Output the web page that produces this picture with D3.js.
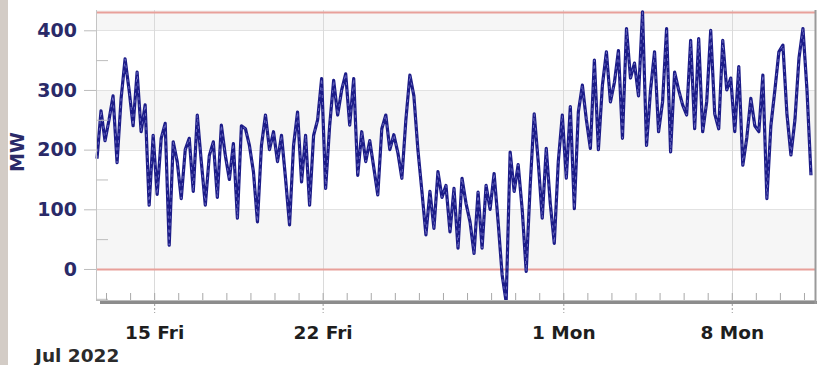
<!DOCTYPE html>
<html>
<head>
<meta charset="utf-8">
<script src="https://cdn.jsdelivr.net/npm/d3@7"></script>
<style>
  html, body { margin: 0; padding: 0; background: #ffffff; }
  svg { display: block; }
  text { font-family: "DejaVu Sans", Verdana, sans-serif; font-weight: bold; }
</style>
</head>
<body>
<svg id="chart" width="819" height="365"></svg>
<script>
// Power output (MW), one reading every 4 hours from 12 Jul 2022 15:00
const seriesStart = new Date(2022, 6, 12, 15, 0);
const stepHours = 4;
const mw = [
  185, 265, 215, 250, 290, 178, 285, 352, 300, 240, 330, 230, 275, 107, 224, 125,
  219, 244, 40, 213, 180, 118, 200, 219, 130, 258, 180, 107, 190, 213, 120, 241,
  190, 150, 210, 85,
  240, 235, 207, 163, 79, 207, 258, 200, 230, 180, 224, 152, 74, 207, 263, 146,
  224, 107, 224, 250, 319, 135, 240, 316, 258, 300, 327, 241, 319, 157, 230, 180,
  215, 170, 124, 235,
  258, 200, 225, 195, 152, 250, 325, 290, 200, 130, 57, 130, 68, 163, 120, 140,
  62, 135, 35, 152, 110, 79, 26, 129, 35, 140, 100, 160, 79, -10, -55, 196,
  130, 175, 100, -4,
  140, 260, 180, 85, 202, 110, 43, 180, 258, 152, 272, 101, 263, 308, 250, 202,
  350, 200, 308, 364, 280, 313, 366, 219, 403, 320, 345, 290, 431, 207, 300, 364,
  230, 280, 403, 196,
  330, 300, 275, 258, 383, 235, 386, 230, 280, 400, 260, 235, 383, 300, 320, 230,
  339, 174, 220, 286, 240, 230, 325, 118, 240, 300, 364, 375, 260, 191, 250, 353,
  403, 300, 157
];

// Axis setup
const xStart = new Date(2022, 6, 12, 14, 0);
const xEnd = new Date(2022, 7, 11, 11, 0);
const yMin = -52, yMax = 434;
const yMajorTicks = [0, 100, 200, 300, 400];
const yMinorTicks = [-50, 50, 150, 250, 350];
const limitLines = [0, 430];
const xLabelDates = [new Date(2022, 6, 15), new Date(2022, 6, 22), new Date(2022, 7, 1), new Date(2022, 7, 8)];
const xLabels = ["15 Fri", "22 Fri", "1 Mon", "8 Mon"];
const periodLabel = "Jul 2022";
const unitLabel = "MW";

const points = mw.map((v, i) => ({ t: new Date(seriesStart.getTime() + i * stepHours * 3600e3), v }));

const plot = { left: 96, right: 815, top: 10, bottom: 300 };
const svg = d3.select("#chart");
const labelFont = "'DejaVu Sans', Verdana, sans-serif";

const x = d3.scaleTime().domain([xStart, xEnd]).range([plot.left, plot.right]);
const y = d3.scaleLinear().domain([yMin, yMax]).range([plot.bottom, plot.top]);

// Left margin strip
svg.append("rect").attr("x", 0).attr("y", 0).attr("width", 8).attr("height", 365).attr("fill", "#d3ccc6");

// Alternating background bands
const bandEdges = [yMin, 0, 100, 200, 300, 400, yMax];
for (let k = 0; k < bandEdges.length - 1; k++) {
  svg.append("rect")
    .attr("x", plot.left).attr("width", plot.right - plot.left)
    .attr("y", y(bandEdges[k + 1])).attr("height", y(bandEdges[k]) - y(bandEdges[k + 1]))
    .attr("fill", k % 2 === 1 ? "#f6f6f6" : "#ffffff");
}

// Horizontal gridlines
svg.append("g").selectAll("line").data(yMajorTicks).join("line")
  .attr("x1", plot.left).attr("x2", plot.right)
  .attr("y1", d => Math.round(y(d)) + 0.5).attr("y2", d => Math.round(y(d)) + 0.5)
  .attr("stroke", "#e2e2e2").attr("stroke-width", 1);

// Vertical gridlines at labelled dates
svg.append("g").selectAll("line").data(xLabelDates).join("line")
  .attr("x1", d => Math.round(x(d)) + 0.5).attr("x2", d => Math.round(x(d)) + 0.5)
  .attr("y1", plot.top).attr("y2", plot.bottom)
  .attr("stroke", "#dadada").attr("stroke-width", 1);

// Limit lines
svg.append("g").selectAll("line").data(limitLines).join("line")
  .attr("x1", plot.left).attr("x2", plot.right)
  .attr("y1", d => Math.round(y(d)) + 0.5).attr("y2", d => Math.round(y(d)) + 0.5)
  .attr("stroke", "#e8a09a").attr("stroke-width", 2);

// Series
const line = d3.line().x(d => x(d.t)).y(d => y(d.v));
svg.append("path").datum(points)
  .attr("d", line)
  .attr("fill", "none")
  .attr("stroke", "#1c1c88")
  .attr("stroke-width", 3.2)
  .attr("stroke-linejoin", "round");
svg.append("path").datum(points)
  .attr("d", line)
  .attr("fill", "none")
  .attr("stroke", "#7a7acc")
  .attr("stroke-width", 0.8)
  .attr("stroke-dasharray", "3,4")
  .attr("stroke-linejoin", "round");

// Left axis line
svg.append("line")
  .attr("x1", plot.left + 0.5).attr("x2", plot.left + 0.5)
  .attr("y1", plot.top).attr("y2", plot.bottom)
  .attr("stroke", "#c4c4c4");

// Y axis: major ticks outside with labels
const yAxis = d3.axisLeft(y).tickValues(yMajorTicks).tickSize(12).tickPadding(7).tickFormat(d3.format("d"));
const gy = svg.append("g").attr("transform", `translate(${plot.left},0)`).call(yAxis);
gy.select(".domain").remove();
gy.selectAll(".tick line").attr("stroke", "#bdbdbd");
gy.selectAll(".tick text")
  .attr("fill", "#2a2a68").attr("font-size", 19)
  .attr("font-family", labelFont).attr("font-weight", "bold");

// Y axis: minor ticks inside the plot
const yMinor = d3.axisRight(y).tickValues(yMinorTicks).tickSize(12).tickFormat("");
const gym = svg.append("g").attr("transform", `translate(${plot.left},0)`).call(yMinor);
gym.select(".domain").remove();
gym.selectAll(".tick line").attr("stroke", "#bdbdbd");

// X axis: daily ticks pointing up from the base line
const gxd = svg.append("g").attr("transform", `translate(0,${plot.bottom})`)
  .call(d3.axisTop(x).ticks(d3.timeDay.every(1)).tickSize(7).tickFormat(""));
gxd.select(".domain").remove();
gxd.selectAll(".tick line").attr("stroke", "#a8a8a8");

// Base line of the plot
svg.append("line").attr("x1", plot.left).attr("x2", plot.right)
  .attr("y1", plot.bottom + 0.5).attr("y2", plot.bottom + 0.5).attr("stroke", "#bcbcbc");
svg.append("line").attr("x1", plot.left + 4).attr("x2", plot.right + 2)
  .attr("y1", plot.bottom + 2.5).attr("y2", plot.bottom + 2.5)
  .attr("stroke", "#8c8c8c").attr("stroke-width", 3);
// Right edge
svg.append("line").attr("x1", plot.right + 0.5).attr("x2", plot.right + 0.5)
  .attr("y1", plot.top).attr("y2", plot.bottom + 4)
  .attr("stroke", "#9a9a9a").attr("stroke-width", 2);

// X axis labels with dashed ticks below
const gx = svg.append("g").attr("transform", `translate(0,${plot.bottom + 4})`)
  .call(d3.axisBottom(x).tickValues(xLabelDates).tickSize(9).tickPadding(13)
    .tickFormat((d, i) => xLabels[i]));
gx.select(".domain").remove();
gx.selectAll(".tick line").attr("stroke", "#9a9a9a").attr("stroke-dasharray", "2,2");
gx.selectAll(".tick text")
  .attr("fill", "#1e1e1e").attr("font-size", 18.5)
  .attr("font-family", labelFont).attr("font-weight", "bold");

// Period and unit labels
svg.append("text").attr("x", 35).attr("y", 362).attr("fill", "#2b2b2b").attr("font-size", 18.5).text(periodLabel);
svg.append("text")
  .attr("transform", `translate(24,152) rotate(-90)`)
  .attr("text-anchor", "middle").attr("fill", "#2a2a68").attr("font-size", 19)
  .text(unitLabel);
</script>
</body>
</html>
